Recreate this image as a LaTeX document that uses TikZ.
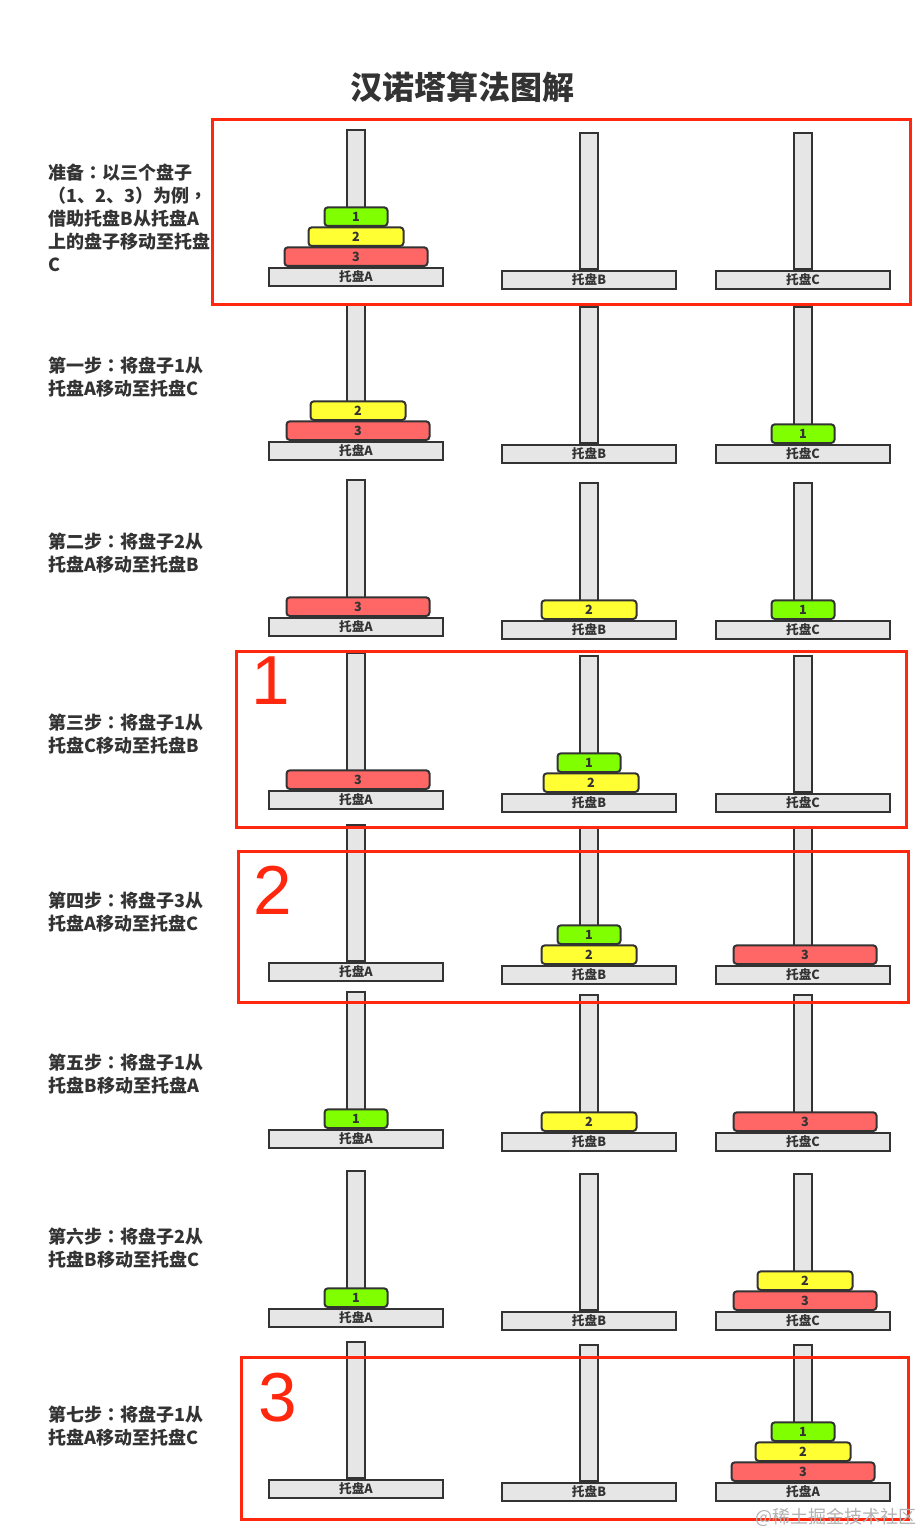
\documentclass[tikz,border=0pt]{standalone}
\usepackage{fontspec}
\setmainfont{Noto Sans CJK SC}
\newfontfamily\numfont{Liberation Sans}
\newfontfamily\tcfont{Noto Sans CJK TC}
\newcommand\midpunct[1]{{\tcfont #1}}

\definecolor{pegline}{RGB}{51,51,51}
\definecolor{pegfill}{RGB}{230,230,230}
\definecolor{diskgreen}{RGB}{128,255,0}
\definecolor{diskyellow}{RGB}{255,255,51}
\definecolor{diskred}{RGB}{255,102,102}
\definecolor{framered}{RGB}{255,40,15}
\definecolor{textgray}{RGB}{51,51,51}

\tikzset{every picture/.style={line width=0.75pt}}
\tikzset{
  peg/.style={draw=pegline, fill=pegfill, line width=1.5pt, minimum width=13.5pt, minimum height=102pt, inner sep=0pt, anchor=south},
  tray/.style={draw=pegline, fill=pegfill, line width=1.5pt, minimum width=130.5pt, minimum height=13.5pt, inner sep=0pt, anchor=north, text=pegline, font=\fontsize{9.5}{10}\selectfont\bfseries},
  disk/.style={draw=pegline, line width=1.5pt, rounded corners=2.5pt, minimum height=14pt, inner sep=0pt, anchor=south, text=pegline, font=\fontsize{9.5}{10}\selectfont\bfseries},
  diskone/.style={disk, fill=diskgreen, minimum width=47.25pt},
  disktwo/.style={disk, fill=diskyellow, minimum width=71.25pt},
  diskthree/.style={disk, fill=diskred, minimum width=107.25pt},
  stepframe/.style={draw=framered, line width=2.25pt},
  steptext/.style={anchor=west, align=left, inner sep=0pt, text=textgray, font=\fontsize{13.5}{17.25}\selectfont\bfseries},
  bignum/.style={inner sep=0pt, text=framered, font=\numfont\fontsize{52}{52}\selectfont},
}

\begin{document}
\begin{tikzpicture}[x=0.75pt,y=0.75pt,yscale=-1,xscale=1]
\useasboundingbox[fill=white] (0,0) rectangle (923,1533);

% Title
\node[text=textgray, font=\fontsize{24}{28}\selectfont\bfseries] (title) at (462,87) {汉诺塔算法图解};

% Text Node
\node[steptext] (txt0) at (48,218) {准备\midpunct{：}以三个盘子\\（1、2、3）为例\midpunct{，}\\借助托盘B从托盘A\\上的盘子移动至托盘\\C};
\node[steptext] (txt1) at (48,377.5) {第一步\midpunct{：}将盘子1从\\托盘A移动至托盘C};
\node[steptext] (txt2) at (48,553.5) {第二步\midpunct{：}将盘子2从\\托盘A移动至托盘B};
\node[steptext] (txt3) at (48,734.5) {第三步\midpunct{：}将盘子1从\\托盘C移动至托盘B};
\node[steptext] (txt4) at (48,912.5) {第四步\midpunct{：}将盘子3从\\托盘A移动至托盘C};
\node[steptext] (txt5) at (48,1074.5) {第五步\midpunct{：}将盘子1从\\托盘B移动至托盘A};
\node[steptext] (txt6) at (48,1248.5) {第六步\midpunct{：}将盘子2从\\托盘B移动至托盘C};
\node[steptext] (txt7) at (48,1426.5) {第七步\midpunct{：}将盘子1从\\托盘A移动至托盘C};

% Row 0 : start
\node[peg] (pegA0) at (356,267) {};
\node[peg] (pegB0) at (589,270) {};
\node[peg] (pegC0) at (803,270) {};
\node[tray] (trayA0) at (356,267) {托盘A};
\node[tray] (trayB0) at (589,270) {托盘B};
\node[tray] (trayC0) at (803,270) {托盘C};
\node[diskthree] (dthree0) at (356,267) {3};
\node[disktwo] (dtwo0) at (356,247) {2};
\node[diskone] (done0) at (356,227) {1};

% Row 1
\node[peg] (pegA1) at (356,441) {};
\node[peg] (pegB1) at (589,444) {};
\node[peg] (pegC1) at (803,444) {};
\node[tray] (trayA1) at (356,441) {托盘A};
\node[tray] (trayB1) at (589,444) {托盘B};
\node[tray] (trayC1) at (803,444) {托盘C};
\node[diskthree] (dthree1) at (358,441) {3};
\node[disktwo] (dtwo1) at (358,421) {2};
\node[diskone] (done1) at (803,444) {1};

% Row 2
\node[peg] (pegA2) at (356,617) {};
\node[peg] (pegB2) at (589,620) {};
\node[peg] (pegC2) at (803,620) {};
\node[tray] (trayA2) at (356,617) {托盘A};
\node[tray] (trayB2) at (589,620) {托盘B};
\node[tray] (trayC2) at (803,620) {托盘C};
\node[diskthree] (dthree2) at (358,617) {3};
\node[disktwo] (dtwo2) at (589,620) {2};
\node[diskone] (done2) at (803,620) {1};

% Row 3
\node[peg] (pegA3) at (356,790) {};
\node[peg] (pegB3) at (589,793) {};
\node[peg] (pegC3) at (803,793) {};
\node[tray] (trayA3) at (356,790) {托盘A};
\node[tray] (trayB3) at (589,793) {托盘B};
\node[tray] (trayC3) at (803,793) {托盘C};
\node[diskthree] (dthree3) at (358,790) {3};
\node[disktwo] (dtwo3) at (591,793) {2};
\node[diskone] (done3) at (589,773) {1};

% Row 4
\node[peg] (pegA4) at (356,962) {};
\node[peg] (pegB4) at (589,965) {};
\node[peg] (pegC4) at (803,965) {};
\node[tray] (trayA4) at (356,962) {托盘A};
\node[tray] (trayB4) at (589,965) {托盘B};
\node[tray] (trayC4) at (803,965) {托盘C};
\node[diskthree] (dthree4) at (805,965) {3};
\node[disktwo] (dtwo4) at (589,965) {2};
\node[diskone] (done4) at (589,945) {1};

% Row 5
\node[peg] (pegA5) at (356,1129) {};
\node[peg] (pegB5) at (589,1132) {};
\node[peg] (pegC5) at (803,1132) {};
\node[tray] (trayA5) at (356,1129) {托盘A};
\node[tray] (trayB5) at (589,1132) {托盘B};
\node[tray] (trayC5) at (803,1132) {托盘C};
\node[diskthree] (dthree5) at (805,1132) {3};
\node[disktwo] (dtwo5) at (589,1132) {2};
\node[diskone] (done5) at (356,1129) {1};

% Row 6
\node[peg] (pegA6) at (356,1308) {};
\node[peg] (pegB6) at (589,1311) {};
\node[peg] (pegC6) at (803,1311) {};
\node[tray] (trayA6) at (356,1308) {托盘A};
\node[tray] (trayB6) at (589,1311) {托盘B};
\node[tray] (trayC6) at (803,1311) {托盘C};
\node[diskthree] (dthree6) at (805,1311) {3};
\node[disktwo] (dtwo6) at (805,1291) {2};
\node[diskone] (done6) at (356,1308) {1};

% Row 7 : end
\node[peg] (pegA7) at (356,1479) {};
\node[peg] (pegB7) at (589,1482) {};
\node[peg] (pegC7) at (803,1482) {};
\node[tray] (trayA7) at (356,1479) {托盘A};
\node[tray] (trayB7) at (589,1482) {托盘B};
\node[tray] (trayC7) at (803,1482) {托盘A};
\node[diskthree] (dthree7) at (803,1482) {3};
\node[disktwo] (dtwo7) at (803,1462) {2};
\node[diskone] (done7) at (803,1442) {1};

% Red frames
\draw[stepframe] (212,120) rectangle (910,305);
\draw[stepframe] (236,651) rectangle (906,827);
\draw[stepframe] (238,851) rectangle (908,1002);
\draw[stepframe] (241,1357) rectangle (908,1519);
\node[bignum] (numone) at (271,681) {1};
\node[bignum] (numtwo) at (273,890) {2};
\node[bignum] (numthree) at (278,1398) {3};

% Watermark
\node[text=black!30, font=\fontsize{13.5}{14}\selectfont] (mark) at (836,1517) {@稀土掘金技术社区};

\end{tikzpicture}
\end{document}
